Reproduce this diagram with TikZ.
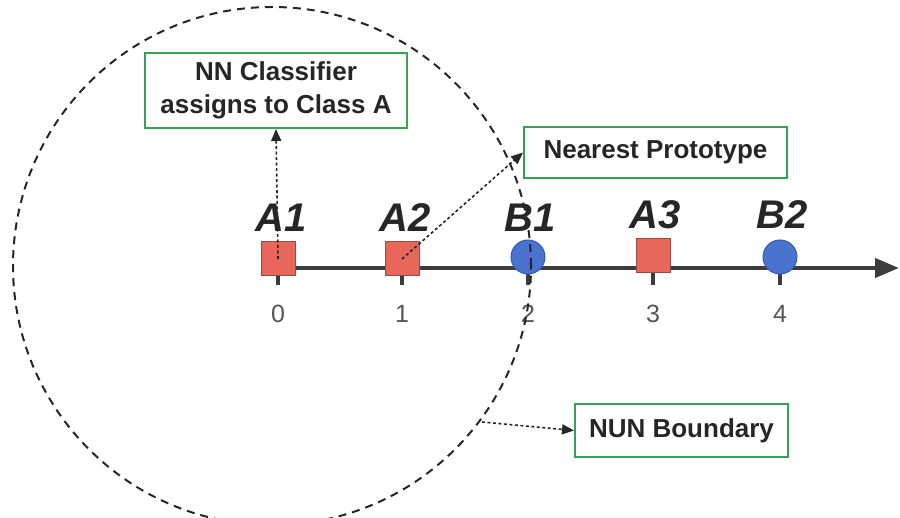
\documentclass[tikz,border=0pt]{standalone}
\usepackage{fontspec}
\setmainfont{Liberation Sans}
\usetikzlibrary{arrows.meta}
\definecolor{redsq}{HTML}{E8675B}
\definecolor{redsqb}{HTML}{9C4A40}
\definecolor{bluec}{HTML}{4A72CF}
\definecolor{bluecb}{HTML}{3A5AA8}
\definecolor{boxgreen}{HTML}{3AA055}
\definecolor{axisgray}{HTML}{3C3C3C}
\definecolor{numgray}{HTML}{555555}
\definecolor{txtdark}{HTML}{262626}
\tikzset{
  sqmark/.style={draw=redsqb, line width=1pt, fill=redsq, minimum size=34pt, inner sep=0pt},
  circmark/.style={circle, draw=bluecb, line width=1pt, fill=bluec, minimum size=34pt, inner sep=0pt},
  ptlabel/.style={anchor=base, inner sep=0pt, text=txtdark, font=\fontsize{40}{48}\selectfont\bfseries\itshape},
  ticknum/.style={inner sep=0pt, text=numgray, font=\fontsize{25}{30}\selectfont},
  tickline/.style={draw=axisgray, line width=3.5pt},
  axisline/.style={draw=axisgray, line width=4pt, -{Triangle[length=24pt,width=19pt]}},
  gbox/.style={draw=boxgreen, line width=2pt, fill=white, inner sep=0pt, align=center, text=txtdark, font=\fontsize{26}{33}\selectfont\bfseries},
  pointer/.style={draw=txtdark, line width=1.6pt, dash pattern=on 3pt off 2.5pt, -{Triangle[length=12pt,width=10pt]}},
  boundary/.style={draw=txtdark, line width=2pt, dash pattern=on 8pt off 6pt}
}
\begin{document}
\begin{tikzpicture}[x=1pt,y=-1pt]
\useasboundingbox (0,0) rectangle (900,518);
\clip (0,0) rectangle (900,518);

% axis
\coordinate (axstart) at (278,268);
\coordinate (axend) at (899,268);
\draw[axisline] (axstart) -- (axend);

% ticks
\coordinate (t0) at (278,268);
\coordinate (t1) at (402,268);
\coordinate (t2) at (528,268);
\coordinate (t3) at (653,268);
\coordinate (t4) at (780,268);
\foreach \t in {t0,t1,t2,t3,t4} \draw[tickline] (\t) -- ++(0,17);

\node[ticknum] (n0) at (278,314) {0};
\node[ticknum] (n1) at (402,314) {1};
\node[ticknum] (n2) at (528,314) {2};
\node[ticknum] (n3) at (653,314) {3};
\node[ticknum] (n4) at (780,314) {4};

% markers
\node[sqmark] (a1) at (278,259) {};
\node[sqmark] (a2) at (402,259) {};
\node[circmark] (b1) at (528,257) {};
\node[sqmark] (a3) at (653,256) {};
\node[circmark] (b2) at (780,257) {};

% labels
\node[ptlabel] (la1) at (281,232) {A1};
\node[ptlabel] (la2) at (405,232) {A2};
\node[ptlabel] (lb1) at (530,232) {B1};
\node[ptlabel] (la3) at (655,229) {A3};
\node[ptlabel] (lb2) at (782,229) {B2};

% boxes
\node[gbox, minimum width=262pt, minimum height=75pt] (nn) at (276,90.5) {NN Classifier\\assigns to Class A};
\node[gbox, minimum width=263pt, minimum height=51pt] (np) at (655.5,152.5) {Nearest Prototype};
\node[gbox, minimum width=213pt, minimum height=53pt] (nun) at (681.5,430.5) {NUN Boundary};

% NUN boundary circle
\coordinate (cc) at (272,266);
\draw[boundary] (cc) circle[radius=259pt];
\coordinate (cb) at (482,422);

% pointers
\draw[pointer] (a1.center) -- (nn.south);
\draw[pointer] (a2.center) -- (np.west);
\draw[pointer] (cb) -- (nun.west);
\end{tikzpicture}
\end{document}
